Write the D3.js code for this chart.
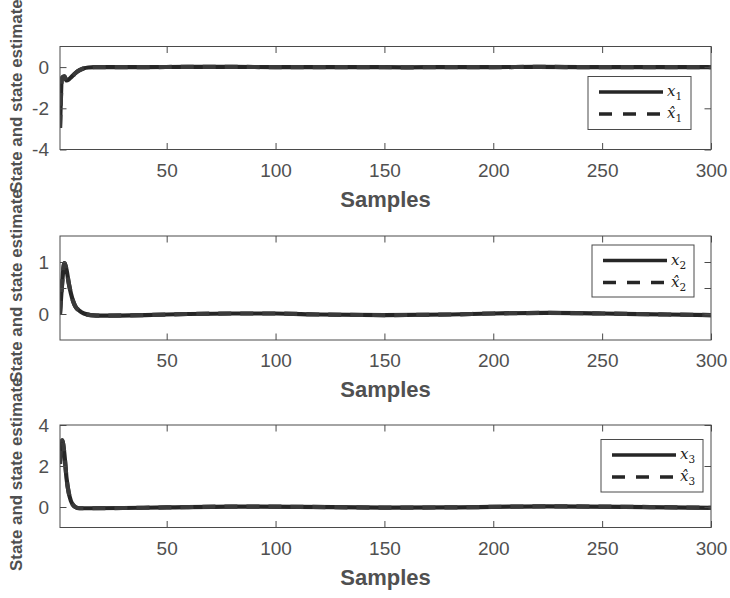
<!DOCTYPE html>
<html><head><meta charset="utf-8">
<script src="https://cdn.jsdelivr.net/npm/d3@7"></script>
<style>body{margin:0;background:#fff}svg{display:block}</style>
</head><body>
<svg id="c" width="730" height="598"></svg>
<script>
// ---- data ----
const xTicks = [50, 100, 150, 200, 250, 300];
const xDomain = [1, 300];

const x1Samples = [1,2,3,4,5,6,7,8,10,12,14,17,20,40,60,80,100,120,140,160,180,200,220,240,260,280,300];
const x1Values  = [-2.95,-0.5,-0.45,-0.65,-0.6,-0.5,-0.4,-0.3,-0.15,-0.06,-0.02,0,0,0,0.01,0.01,0,0,0,-0.01,0,0,0.01,0,0,0,0];
const x1HatValues = [-2.95,-0.5,-0.45,-0.65,-0.6,-0.5,-0.4,-0.3,-0.15,-0.06,-0.02,0,0,0,0.01,0.01,0,0,0,-0.01,0,0,0.01,0,0,0,0];

const x2Samples = [1,2,3,4,5,6,7,8,10,12,15,20,40,60,80,100,120,150,180,200,225,250,280,300];
const x2Values  = [0,0.6,0.98,0.85,0.6,0.4,0.25,0.15,0.06,0.01,-0.02,-0.03,-0.02,0,0.01,0.01,-0.01,-0.02,-0.01,0.01,0.02,0.01,-0.01,-0.02];
const x2HatValues = [0,0.6,0.98,0.85,0.6,0.4,0.25,0.15,0.06,0.01,-0.02,-0.03,-0.02,0,0.01,0.01,-0.01,-0.02,-0.01,0.01,0.02,0.01,-0.01,-0.02];

const x3Samples = [1,2,3,4,5,6,7,8,10,15,30,50,80,110,150,180,225,260,300];
const x3Values  = [2.1,3.25,2.6,1.4,0.7,0.3,0.1,0.0,-0.06,-0.06,-0.05,-0.02,0.02,0.01,-0.03,-0.02,0.03,0.01,-0.04];
const x3HatValues = [2.1,3.25,2.6,1.4,0.7,0.3,0.1,0.0,-0.06,-0.06,-0.05,-0.02,0.02,0.01,-0.03,-0.02,0.03,0.01,-0.04];

const panels = [
  {samples: x1Samples, state: x1Values, est: x1HatValues, yDomain: [-4, 1], yTicks: [-4,-2,0], yLabels: ["-4","-2","0"], sub: "1",
   top: 46.5, bottom: 149.5, legend: {x: 588, y: 76.5, w: 103, h: 53}},
  {samples: x2Samples, state: x2Values, est: x2HatValues, yDomain: [-0.5, 1.5], yTicks: [0,0.5,1], yLabels: ["0","","1"], sub: "2",
   top: 236, bottom: 340, legend: {x: 592, y: 245, w: 102, h: 52}},
  {samples: x3Samples, state: x3Values, est: x3HatValues, yDomain: [-1, 4], yTicks: [0,2,4], yLabels: ["0","2","4"], sub: "3",
   top: 425, bottom: 527.5, legend: {x: 601, y: 439.5, w: 102, h: 52.5}}
];
const yLabelText = "State and state estimate";
const xLabelText = "Samples";

// ---- drawing ----
const svg = d3.select("#c");
const L = 60, R = 711;
const axisColor = "#4a4a4a", textColor = "#505050", lineColor = "#262626";
const x = d3.scaleLinear().domain(xDomain).range([L, R]);
const tickLen = 6.5;

panels.forEach(p => {
  const y = d3.scaleLinear().domain(p.yDomain).range([p.bottom, p.top]);
  const g = svg.append("g");

  // data lines
  const clipId = "clip" + p.sub;
  svg.append("clipPath").attr("id", clipId).append("rect")
    .attr("x", L).attr("y", p.top).attr("width", R - L).attr("height", p.bottom - p.top);
  const line = d3.line().x(d => x(d[0])).y(d => y(d[1])).curve(d3.curveMonotoneX);
  const gl = g.append("g").attr("clip-path", `url(#${clipId})`);
  gl.append("path").datum(p.samples.map((s, i) => [s, p.state[i]]))
    .attr("d", line).attr("fill", "none").attr("stroke", lineColor).attr("stroke-width", 4.2)
    .attr("stroke-linejoin", "round");
  gl.append("path").datum(p.samples.map((s, i) => [s, p.est[i]]))
    .attr("d", line).attr("fill", "none").attr("stroke", "#3a3a3a").attr("stroke-width", 4.2)
    .attr("stroke-dasharray", "13,9");

  // box
  g.append("rect").attr("x", L).attr("y", p.top).attr("width", R - L).attr("height", p.bottom - p.top)
    .attr("fill", "none").attr("stroke", axisColor).attr("stroke-width", 1);

  // x axis (bottom, ticks inward) + mirrored top ticks
  const xb = g.append("g").attr("transform", `translate(0,${p.bottom})`)
    .call(d3.axisBottom(x).tickValues(xTicks).tickSizeInner(-tickLen).tickSizeOuter(0).tickPadding(14));
  xb.select(".domain").remove();
  xb.selectAll("line").attr("stroke", axisColor);
  xb.selectAll("text").attr("fill", textColor).style("font-family", "Liberation Sans, Arial, sans-serif").style("font-size", "19px");
  const xt = g.append("g").attr("transform", `translate(0,${p.top})`)
    .call(d3.axisTop(x).tickValues(xTicks).tickSizeInner(-tickLen).tickSizeOuter(0).tickFormat(""));
  xt.select(".domain").remove();
  xt.selectAll("line").attr("stroke", axisColor);

  // y axis left + mirrored right
  const yl = g.append("g").attr("transform", `translate(${L},0)`)
    .call(d3.axisLeft(y).tickValues(p.yTicks).tickSizeInner(-tickLen).tickSizeOuter(0).tickPadding(11)
      .tickFormat((d, i) => p.yLabels[i]));
  yl.select(".domain").remove();
  yl.selectAll("line").attr("stroke", axisColor);
  yl.selectAll("text").attr("fill", textColor).style("font-family", "Liberation Sans, Arial, sans-serif").style("font-size", "19px");
  const yr = g.append("g").attr("transform", `translate(${R},0)`)
    .call(d3.axisRight(y).tickValues(p.yTicks).tickSizeInner(-tickLen).tickSizeOuter(0).tickFormat(""));
  yr.select(".domain").remove();
  yr.selectAll("line").attr("stroke", axisColor);

  // x label
  g.append("text").attr("x", (L + R) / 2).attr("y", p.bottom + 57)
    .attr("text-anchor", "middle").attr("fill", textColor)
    .style("font-family", "Liberation Sans, Arial, sans-serif").style("font-size", "22px").style("font-weight", "bold")
    .text(xLabelText);

  // y label
  g.append("text").attr("transform", `translate(22,${(p.top + p.bottom) / 2 - 2}) rotate(-90)`)
    .attr("text-anchor", "middle").attr("fill", textColor)
    .style("font-family", "Liberation Sans, Arial, sans-serif").style("font-size", "16.9px").style("font-weight", "bold")
    .text(yLabelText);

  // legend
  const lg = p.legend;
  g.append("rect").attr("x", lg.x).attr("y", lg.y).attr("width", lg.w).attr("height", lg.h)
    .attr("fill", "#fff").attr("stroke", axisColor).attr("stroke-width", 1);
  const rows = [{dash: null, hat: false}, {dash: "13,11", hat: true}];
  rows.forEach((r, i) => {
    const ly = lg.y + 15.5 + i * 22;
    g.append("line").attr("x1", lg.x + 11).attr("x2", lg.x + 75).attr("y1", ly).attr("y2", ly)
      .attr("stroke", lineColor).attr("stroke-width", 3.5).attr("stroke-dasharray", r.dash);
    const t = g.append("text").attr("x", lg.x + 79).attr("y", ly + 4)
      .attr("fill", "#222").style("font-family", "DejaVu Serif, Liberation Serif, serif").style("font-size", "15px");
    t.append("tspan").style("font-style", "italic").text(r.hat ? "x\u0302" : "x");
    t.append("tspan").attr("dy", 4).style("font-size", "10.5px").text(p.sub);
  });
});
</script>
</body></html>
